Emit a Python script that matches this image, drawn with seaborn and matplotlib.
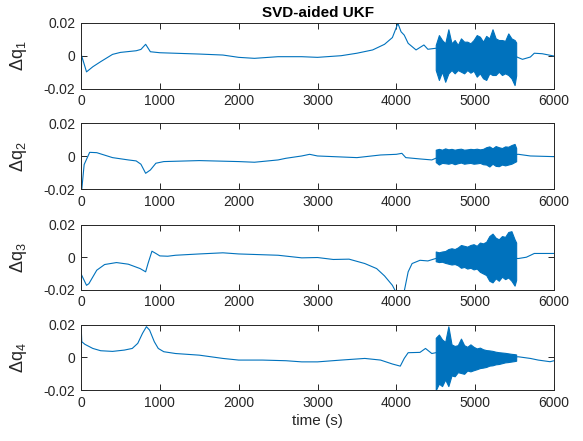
import numpy as np
import pandas as pd
import matplotlib
matplotlib.use("Agg")
import matplotlib.pyplot as plt
import seaborn as sns

# ---- quaternion error components: slow trend (time, value) ----
t_q1 = [0, 8, 70, 150, 250, 400, 500, 700, 760, 820, 880, 1000, 1500, 1800, 2000,
        2200, 2500, 2800, 3000, 3300, 3500, 3700, 3850, 3950, 4020, 4060, 4100,
        4150, 4250, 4350, 4400, 4500, 5000, 5520, 5600, 5700, 5750, 5850, 6000]
q1 = [-0.022, 0.0, -0.0098, -0.0067, -0.0036, 0.0008, 0.002, 0.003, 0.0038, 0.0069,
      0.0024, 0.0018, 0.001, 0.0004, -0.001, -0.0016, -0.0006, -0.0006, -0.001, 0.0,
      0.0015, 0.0035, 0.0069, 0.011, 0.0196, 0.0145, 0.0125, 0.0075, 0.0035, 0.0065,
      0.0039, 0.0045, 0.0004, -0.0006, -0.0022, -0.0008, 0.0015, 0.0012, -0.0002]

t_q2 = [0, 10, 40, 110, 200, 400, 600, 700, 760, 820, 880, 950, 1050, 1500, 2000,
        2200, 2500, 2600, 2800, 2900, 3000, 3200, 3500, 3800, 4000, 4070, 4120, 4300,
        4450, 4500, 5000, 5550, 5700, 6000]
q2 = [-0.022, -0.02, -0.005, 0.0024, 0.0022, -0.0008, -0.0022, -0.0028, -0.0048,
      -0.0103, -0.0083, -0.0042, -0.0032, -0.0026, -0.0032, -0.0036, -0.0022, -0.0012,
      0.0002, 0.0012, 0.0002, -0.0002, -0.0008, 0.0008, 0.0012, 0.0018, -0.0008,
      -0.0016, -0.0022, -0.0012, 0.0, 0.0012, 0.0002, -0.0002]

t_q3 = [0, 3, 70, 100, 200, 300, 450, 600, 750, 820, 850, 900, 950, 1000, 1100, 1200,
        1500, 1800, 2000, 2500, 2800, 3000, 3200, 3400, 3600, 3750, 3850, 3950, 3990,
        4100, 4150, 4200, 4300, 4400, 4500, 5000, 5550, 5650, 5750, 6000]
q3 = [-0.022, -0.0105, -0.0173, -0.0163, -0.008, -0.0045, -0.0033, -0.0043, -0.007,
      -0.009, -0.0039, 0.0037, 0.0023, 0.0008, 0.0006, 0.0012, 0.002, 0.0027, 0.002,
      0.0012, -0.0004, -0.0002, -0.0014, -0.0012, -0.0039, -0.007, -0.0115, -0.0173,
      -0.021, -0.021, -0.009, -0.0039, -0.0019, -0.0023, -0.0008, 0.0, -0.0008, 0.0,
      0.0023, 0.0023]

t_q4 = [0, 10, 50, 150, 250, 400, 550, 650, 720, 780, 830, 870, 930, 980, 1050, 1200,
        1500, 1800, 2000, 2300, 2600, 2800, 3000, 3300, 3600, 3800, 3950, 4050, 4100,
        4150, 4300, 4370, 4450, 4500, 5000, 5550, 5700, 5800, 5950, 6000]
q4 = [0.021, 0.0096, 0.008, 0.0055, 0.0041, 0.0037, 0.0045, 0.0055, 0.0086, 0.0147,
      0.0188, 0.0167, 0.0096, 0.0055, 0.0035, 0.0024, 0.0014, -0.0006, -0.0016, -0.0016,
      -0.002, -0.0027, -0.0027, -0.0016, -0.0006, -0.0016, -0.004, -0.0053, -0.0006,
      0.0029, 0.0031, 0.0055, 0.0024, 0.0029, 0.0, 0.0004, -0.0006, -0.0016, -0.0026,
      -0.002]

# ---- high-frequency burst: upper / lower envelope ----
t_burst = [4500, 4540, 4580, 4620, 4660, 4700, 4740, 4780, 4820, 4860, 4900, 4940, 4980,
           5020, 5060, 5100, 5140, 5180, 5220, 5260, 5300, 5340, 5380, 5420, 5460, 5500,
           5520]

q1_hi = [0.0065, 0.0125, 0.0095, 0.0075, 0.016, 0.0075, 0.0095, 0.0065, 0.0105, 0.0085,
         0.0085, 0.0075, 0.0095, 0.0125, 0.0115, 0.0085, 0.012, 0.0105, 0.016, 0.0105,
         0.0095, 0.0095, 0.009, 0.0135, 0.0105, 0.0095, 0.008]
q1_lo = [-0.0087, -0.0147, -0.0097, -0.0158, -0.0107, -0.0087, -0.0107, -0.0087, -0.0097,
         -0.0107, -0.0087, -0.0103, -0.0091, -0.0127, -0.0107, -0.0137, -0.0147, -0.0107,
         -0.0117, -0.0117, -0.0097, -0.0117, -0.0107, -0.0117, -0.0137, -0.0178, -0.012]

q2_hi = [0.004, 0.0045, 0.004, 0.0048, 0.0042, 0.0045, 0.004, 0.0044, 0.0046, 0.004,
         0.0042, 0.0045, 0.0043, 0.0046, 0.0042, 0.0045, 0.0055, 0.006, 0.0048, 0.0062,
         0.0055, 0.005, 0.006, 0.0058, 0.0068, 0.0075, 0.005]
q2_lo = [-0.0035, -0.005, -0.004, -0.0042, -0.0045, -0.004, -0.0048, -0.0042, -0.0038,
         -0.0045, -0.0042, -0.004, -0.0045, -0.0043, -0.004, -0.0048, -0.005, -0.0062,
         -0.0045, -0.0058, -0.006, -0.005, -0.0055, -0.005, -0.0045, -0.0035, -0.003]

q3_hi = [0.0035, 0.003, 0.0035, 0.0038, 0.005, 0.0055, 0.005, 0.006, 0.0075, 0.007,
         0.0065, 0.0075, 0.008, 0.007, 0.009, 0.0085, 0.0095, 0.013, 0.0145, 0.012,
         0.011, 0.013, 0.0125, 0.0155, 0.016, 0.011, 0.009]
q3_lo = [-0.0025, -0.003, -0.0028, -0.0035, -0.004, -0.0045, -0.0042, -0.005, -0.0065,
         -0.006, -0.007, -0.0065, -0.0075, -0.007, -0.009, -0.01, -0.011, -0.0145,
         -0.0155, -0.013, -0.0145, -0.012, -0.0135, -0.0125, -0.0145, -0.0175, -0.014]

q4_hi = [0.012, 0.014, 0.011, 0.0095, 0.019, 0.008, 0.007, 0.0075, 0.0115, 0.0075,
         0.0065, 0.008, 0.0065, 0.0055, 0.006, 0.005, 0.0045, 0.0043, 0.004, 0.0035,
         0.0032, 0.003, 0.0028, 0.0025, 0.0022, 0.002, 0.0018]
q4_lo = [-0.02, -0.016, -0.0175, -0.0135, -0.0175, -0.011, -0.0115, -0.009, -0.0095,
         -0.01, -0.008, -0.0085, -0.0078, -0.0072, -0.0065, -0.0062, -0.0058, -0.005,
         -0.0048, -0.0042, -0.004, -0.0035, -0.003, -0.0028, -0.0025, -0.0022, -0.002]

x_ticks = [0, 1000, 2000, 3000, 4000, 5000, 6000]
y_ticks = [-0.02, 0, 0.02]
y_tick_labels = ["-0.02", "0", "0.02"]
y_labels = [r"$\Delta$q$_1$", r"$\Delta$q$_2$", r"$\Delta$q$_3$", r"$\Delta$q$_4$"]

sns.set_style("ticks")
plt.rcParams["font.family"] = ["Liberation Sans", "DejaVu Sans"]
plt.rcParams["mathtext.fontset"] = "custom"
plt.rcParams["mathtext.rm"] = "Liberation Sans"
plt.rcParams["mathtext.it"] = "Liberation Sans"

LINE = "#0072BD"
AXC = "#262626"

fig = plt.figure(figsize=(5.83, 4.41), dpi=100)
W, H = 583, 441
left, width = 81 / W, 473 / W
tops = [22.7, 123.3, 224.7, 324.7]
heights = [66.0, 66.0, 65.0, 65.5]

series = [(t_q1, q1, q1_hi, q1_lo), (t_q2, q2, q2_hi, q2_lo),
          (t_q3, q3, q3_hi, q3_lo), (t_q4, q4, q4_hi, q4_lo)]

for i, (tt, qq, hi, lo) in enumerate(series):
    bottom = 1 - (tops[i] + heights[i]) / H
    ax = fig.add_axes([left, bottom, width, heights[i] / H])
    df = pd.DataFrame({"t": tt, "q": qq})
    sns.lineplot(data=df, x="t", y="q", ax=ax, color=LINE, linewidth=0.8)
    ax.fill_between(t_burst, lo, hi, color=LINE, linewidth=0.8, edgecolor=LINE)
    ax.set_xlim(0, 6000)
    ax.set_ylim(-0.02, 0.02)
    ax.set_xticks(x_ticks)
    ax.set_xticklabels([str(v) for v in x_ticks])
    ax.set_yticks(y_ticks)
    ax.set_yticklabels(y_tick_labels)
    ax.tick_params(direction="in", length=4, width=0.7, colors=AXC, labelsize=10,
                   top=True, right=True, pad=4)
    for s in ax.spines.values():
        s.set_visible(True)
        s.set_linewidth(0.7)
        s.set_color(AXC)
    ax.set_xlabel("")
    ax.set_ylabel(y_labels[i], fontsize=13, color=AXC)
    ax.yaxis.set_label_coords(-0.11, 0.5)
    if i == 0:
        ax.set_title("SVD-aided UKF", fontsize=11, fontweight="bold", pad=4, color="black")
    if i == 3:
        ax.set_xlabel("time (s)", fontsize=11, color=AXC, labelpad=3)

fig.savefig("out.png", dpi=100)
